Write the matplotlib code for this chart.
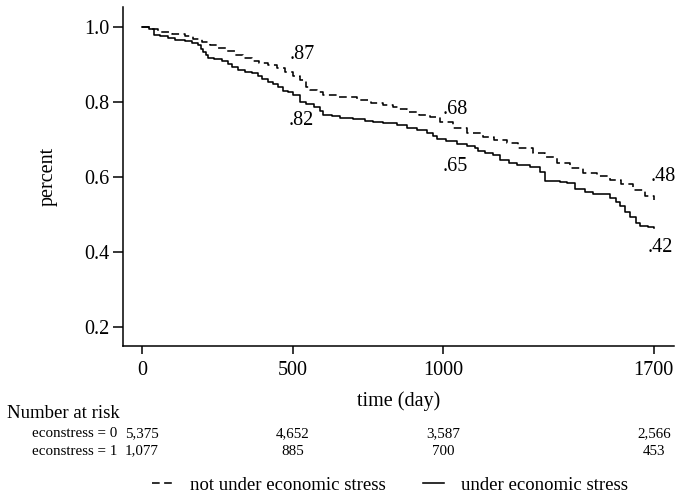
import matplotlib
matplotlib.use("Agg")
import matplotlib.pyplot as plt

plt.rcParams['font.family'] = ['Liberation Serif', 'DejaVu Serif']

# Kaplan-Meier survival estimates (step times in days, survival fraction)
not_stressed_t = [0, 30, 53, 100, 143, 170, 199, 225, 252, 280, 309, 335, 365, 390, 419,
                  450, 475, 500, 525, 545, 558, 580, 601, 650, 714, 760, 800, 834, 850,
                  880, 920, 957, 990, 1033, 1080, 1133, 1170, 1213, 1250, 1299, 1340,
                  1379, 1420, 1465, 1510, 1555, 1590, 1631, 1670, 1700]
not_stressed_s = [1.000, 0.993, 0.987, 0.982, 0.976, 0.968, 0.960, 0.952, 0.944, 0.935,
                  0.925, 0.917, 0.909, 0.904, 0.899, 0.890, 0.880, 0.870, 0.857, 0.840,
                  0.832, 0.825, 0.819, 0.812, 0.805, 0.797, 0.792, 0.787, 0.780, 0.773,
                  0.766, 0.760, 0.745, 0.731, 0.718, 0.707, 0.698, 0.690, 0.678, 0.664,
                  0.652, 0.638, 0.624, 0.611, 0.602, 0.592, 0.580, 0.565, 0.550, 0.539]

stressed_t = [0, 25, 40, 60, 86, 110, 143, 165, 186, 195, 203, 212, 219, 240, 266, 285,
              299, 320, 342, 365, 385, 400, 419, 435, 452, 470, 485, 500, 525, 545, 570,
              591, 601, 630, 658, 700, 740, 767, 800, 847, 880, 914, 945, 967, 980, 1010,
              1047, 1080, 1106, 1116, 1140, 1166, 1189, 1220, 1246, 1289, 1322, 1339,
              1389, 1412, 1439, 1470, 1498, 1555, 1575, 1588, 1605, 1621, 1640, 1655,
              1680, 1700]
stressed_s = [1.000, 0.993, 0.978, 0.975, 0.970, 0.966, 0.962, 0.957, 0.952, 0.942,
              0.933, 0.925, 0.918, 0.915, 0.910, 0.900, 0.893, 0.886, 0.880, 0.876,
              0.870, 0.862, 0.853, 0.847, 0.840, 0.828, 0.825, 0.818, 0.800, 0.795,
              0.785, 0.775, 0.766, 0.762, 0.758, 0.755, 0.750, 0.747, 0.744, 0.738,
              0.731, 0.724, 0.718, 0.710, 0.700, 0.696, 0.688, 0.683, 0.677, 0.668,
              0.663, 0.659, 0.645, 0.638, 0.632, 0.626, 0.614, 0.590, 0.586, 0.584,
              0.568, 0.560, 0.553, 0.544, 0.534, 0.522, 0.505, 0.492, 0.478, 0.470,
              0.466, 0.464]

# Survival annotations and where they sit
ann_values = [0.87, 0.82, 0.68, 0.65, 0.48, 0.42]
ann_x = [531, 528, 1039, 1039, 1730, 1723]
ann_y = [0.925, 0.749, 0.779, 0.627, 0.600, 0.411]

# Risk table
risk_times = [0, 500, 1000, 1700]
risk_rows = ["econstress = 0", "econstress = 1"]
risk_counts = [[5375, 4652, 3587, 2566],
               [1077, 885, 700, 453]]

x_ticks = [0, 500, 1000, 1700]
y_ticks = [0.2, 0.4, 0.6, 0.8, 1.0]
series_labels = ["not under economic stress", "under economic stress"]

fig = plt.figure(figsize=(6.77, 4.98), dpi=100)
ax = fig.add_axes([123 / 677, 1 - 346 / 498, (674 - 123) / 677, (346 - 7) / 498])

ln0, = ax.plot(not_stressed_t, not_stressed_s, drawstyle='steps-post', color='black',
               lw=1.15, dashes=(4.8, 2.8), label=series_labels[0])
ln1, = ax.plot(stressed_t, stressed_s, drawstyle='steps-post', color='black',
               lw=1.15, label=series_labels[1])

for v, x, y in zip(ann_values, ann_x, ann_y):
    ax.text(x, y, f"{v:.2f}".lstrip("0"), ha='center', va='center', fontsize=14.5)

ax.set_xlim(-63, 1767)
ax.set_ylim(0.149, 1.053)
ax.set_xticks(x_ticks)
ax.set_yticks(y_ticks)
ax.set_xticklabels([str(t) for t in x_ticks], fontsize=14.5)
ax.set_yticklabels([f"{t:.1f}" for t in y_ticks], fontsize=14.5)
ax.tick_params(axis='y', length=7, width=1.1, pad=3)
ax.tick_params(axis='x', length=6, width=1.1, pad=5)
for side in ('top', 'right'):
    ax.spines[side].set_visible(False)
for side in ('left', 'bottom'):
    ax.spines[side].set_linewidth(1.1)

ax.set_ylabel("percent", fontsize=14.5)
ax.yaxis.set_label_coords(-0.118, 0.5)
ax.set_xlabel("time (day)", fontsize=14.5)
ax.xaxis.set_label_coords(0.5, -0.135)

# Number-at-risk table under the plot
fig.text(7 / 677, 1 - 413 / 498, "Number at risk", fontsize=13.5, ha='left', va='center')
row_y = [-0.258, -0.31]
for name, counts, yy in zip(risk_rows, risk_counts, row_y):
    ax.text(-83, yy, name, transform=ax.get_xaxis_transform(), ha='right', va='center',
            fontsize=10.8)
    for t, c in zip(risk_times, counts):
        ax.text(t, yy, f"{c:,}", transform=ax.get_xaxis_transform(), ha='center',
                va='center', fontsize=10.8)

fig.legend(handles=[ln0, ln1], labels=series_labels, loc='center',
           bbox_to_anchor=(390 / 677, 1 - 485 / 498), ncol=2, frameon=False,
           fontsize=13.5, handlelength=1.1, handletextpad=0.9, columnspacing=2.0)

fig.savefig("out.png", dpi=100)
